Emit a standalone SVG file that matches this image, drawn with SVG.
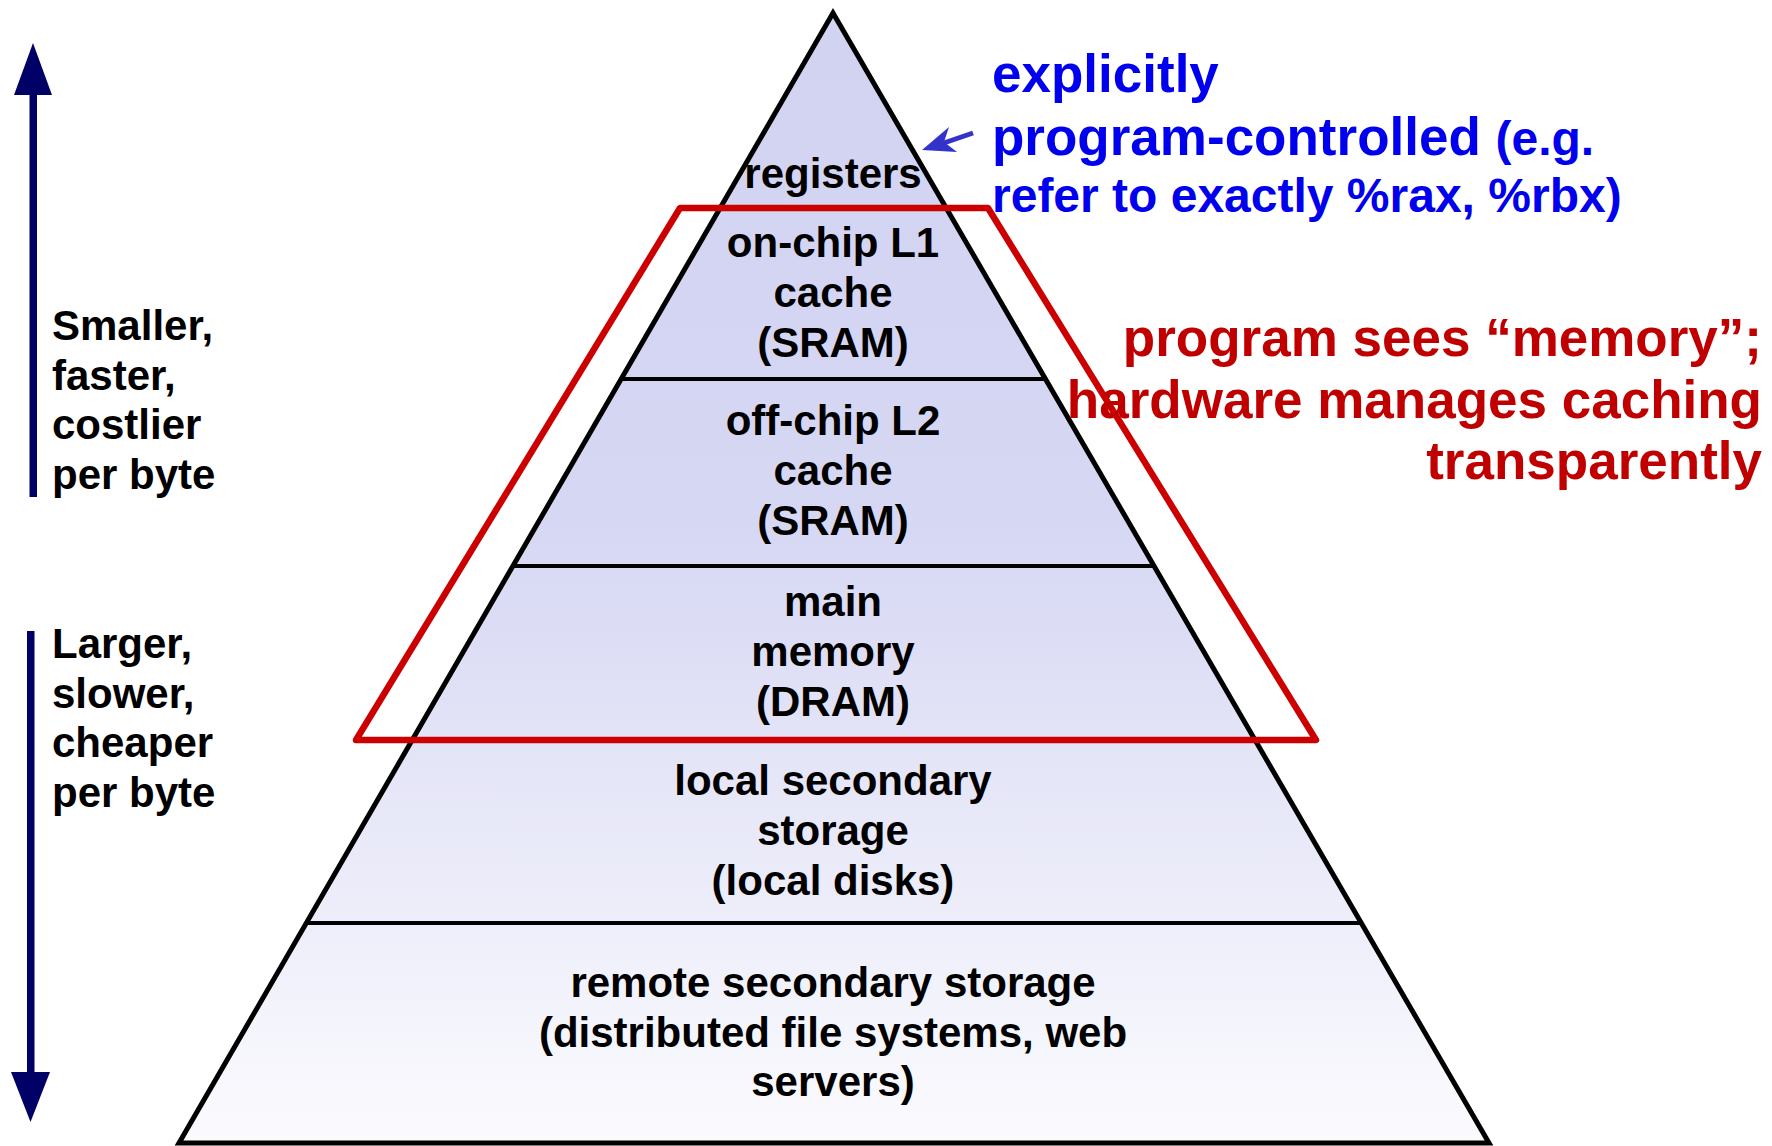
<svg xmlns="http://www.w3.org/2000/svg" width="1772" height="1146" viewBox="0 0 1772 1146">
  <style>
    .lbl { font-family: "Liberation Sans", Arial, sans-serif; font-weight: bold; font-size: 42px; fill: #000; text-anchor: middle; }
    .side { font-family: "Liberation Sans", Arial, sans-serif; font-weight: bold; font-size: 42px; fill: #000; }
    .blue { font-family: "Liberation Sans", Arial, sans-serif; font-weight: bold; fill: #0000EE; }
    .red { font-family: "Liberation Sans", Arial, sans-serif; font-weight: bold; font-size: 53px; fill: #C00000; text-anchor: end; }
    .sep { stroke: #000; stroke-width: 4; }
    .navy { fill: #000066; }
  </style>
  <defs>
    <linearGradient id="pg" gradientUnits="userSpaceOnUse" x1="0" y1="13" x2="0" y2="1143">
      <stop offset="0" stop-color="#D2D3F1"/>
      <stop offset="0.45" stop-color="#D6D7F3"/>
      <stop offset="1" stop-color="#FBFBFE"/>
    </linearGradient>
    <clipPath id="pc">
      <polygon points="833,13 179,1143 1489,1143"/>
    </clipPath>
  </defs>
  <rect width="1772" height="1146" fill="#fff"/>

  <g id="pyramid">
    <polygon points="833,13 179,1143 1489,1143" fill="url(#pg)"/>
    <g clip-path="url(#pc)">
      <line class="sep" x1="0" y1="208" x2="1772" y2="208"/>
      <line class="sep" x1="0" y1="379" x2="1772" y2="379"/>
      <line class="sep" x1="0" y1="566" x2="1772" y2="566"/>
      <line class="sep" x1="0" y1="741" x2="1772" y2="741"/>
      <line class="sep" x1="0" y1="923" x2="1772" y2="923"/>
    </g>
    <polygon points="833,13 179,1143 1489,1143" fill="none" stroke="#000" stroke-width="5" stroke-linejoin="miter"/>
  </g>

  <g id="registers"><text class="lbl" x="833" y="188">registers</text></g>
  <g id="l1">
    <text class="lbl" x="833" y="257">on-chip L1</text>
    <text class="lbl" x="833" y="307">cache</text>
    <text class="lbl" x="833" y="357">(SRAM)</text>
  </g>
  <g id="l2">
    <text class="lbl" x="833" y="435">off-chip L2</text>
    <text class="lbl" x="833" y="485">cache</text>
    <text class="lbl" x="833" y="535">(SRAM)</text>
  </g>
  <g id="main-memory">
    <text class="lbl" x="833" y="616">main</text>
    <text class="lbl" x="833" y="666">memory</text>
    <text class="lbl" x="833" y="716">(DRAM)</text>
  </g>
  <g id="local-storage">
    <text class="lbl" x="833" y="795">local secondary</text>
    <text class="lbl" x="833" y="845">storage</text>
    <text class="lbl" x="833" y="895">(local disks)</text>
  </g>
  <g id="remote-storage">
    <text class="lbl" x="833" y="997">remote secondary storage</text>
    <text class="lbl" x="833" y="1047">(distributed file systems, web</text>
    <text class="lbl" x="833" y="1096">servers)</text>
  </g>

  <g id="memory-region">
    <polygon points="680,208 988,208 1316,740 356,740" fill="none" stroke="#CC0000" stroke-width="6.5" stroke-linejoin="round"/>
  </g>

  <g id="note-registers">
    <text class="blue" x="992" y="92" font-size="53">explicitly</text>
    <text class="blue" x="992" y="155" font-size="53">program-controlled <tspan font-size="48">(e.g.</tspan></text>
    <text class="blue" x="992" y="212" font-size="48">refer to exactly %rax, %rbx)</text>
  </g>

  <g id="note-memory">
    <text class="red" x="1762" y="356">program sees “memory”;</text>
    <text class="red" x="1762" y="418">hardware manages caching</text>
    <text class="red" x="1762" y="479">transparently</text>
  </g>

  <g id="label-up">
    <text class="side" x="52" y="340">Smaller,</text>
    <text class="side" x="52" y="390">faster,</text>
    <text class="side" x="52" y="439">costlier</text>
    <text class="side" x="52" y="489">per byte</text>
  </g>
  <g id="label-down">
    <text class="side" x="52" y="658">Larger,</text>
    <text class="side" x="52" y="708">slower,</text>
    <text class="side" x="52" y="757">cheaper</text>
    <text class="side" x="52" y="807">per byte</text>
  </g>

  <g id="connectors">
    <g id="arrow-up">
      <rect class="navy" x="29.5" y="94" width="7.5" height="403"/>
      <polygon class="navy" points="33,43 14,95 52,95"/>
    </g>
    <g id="arrow-down">
      <rect class="navy" x="27" y="631" width="7.5" height="442"/>
      <polygon class="navy" points="30.5,1122 11,1072 50,1072"/>
    </g>
    <g id="arrow-registers">
      <line x1="973" y1="133" x2="938" y2="145" stroke="#3333CC" stroke-width="5"/>
      <polygon points="922,150 949,127 944,142 957,152" fill="#3333CC"/>
    </g>
  </g>
</svg>
